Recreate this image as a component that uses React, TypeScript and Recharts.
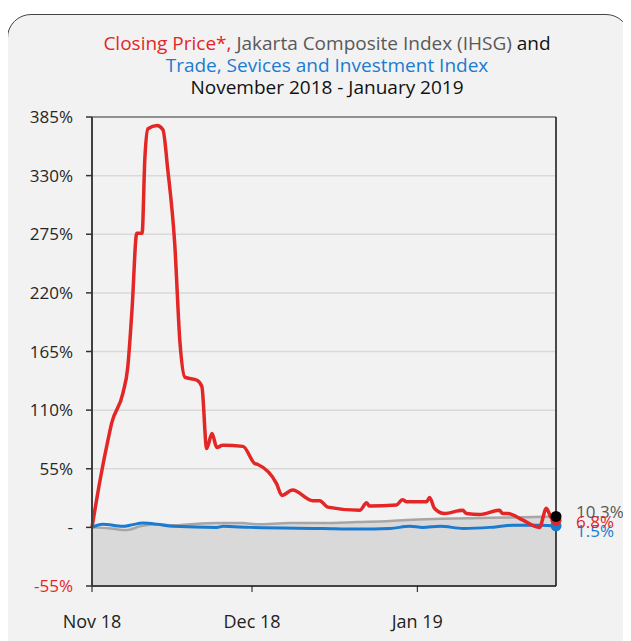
import React from "react"
import {
  Area,
  CartesianGrid,
  ComposedChart,
  Line,
  ReferenceDot,
  ReferenceLine,
  XAxis,
  YAxis,
} from "recharts"

// x = days since 1 Nov 2018
const priceDays = [0, 1.5, 3, 3.7, 5.8, 6.7, 7.5, 8.4, 9.4, 9.9, 10.5, 12.2, 13.3, 14.2, 15.5, 16.5, 17.4, 19.7, 20.6, 21.5, 22.5, 23.4, 24.5, 28.3, 30.5, 31.1, 34.6, 35.6, 37.6, 41.4, 42.7, 44.2, 50.2, 51.5, 52, 57.1, 58.2, 59, 62.7, 63.3, 64.2, 66.1, 69.5, 70.2, 72.7, 76.4, 77, 77.9, 80.7, 83.9, 85.2, 86.1, 87]
const priceValues = [0, 44, 82, 98, 126, 150, 204, 276, 276, 345, 374, 377, 373, 336, 267, 173, 141, 138, 132, 74, 88, 75, 77, 76, 60, 59, 41, 30, 35, 25, 25, 19, 16, 23, 20, 21, 26, 24, 24, 28, 18, 13, 16, 13, 12, 16, 13, 13, 7, 0, 18, 9, 6.8]

const ihsgDays = [0, 3.4, 6.6, 9, 12.2, 15.2, 18.4, 23.4, 28.3, 30.9, 37.1, 43.3, 49.7, 55.9, 59, 65.3, 70.3, 74.6, 80.8, 87]
const ihsgValues = [0, -1, -2.5, 1, 3, 2, 3, 4, 4, 3, 4, 4, 5, 6, 7, 8, 8.5, 9, 9.5, 10.3]

const tradeDays = [0, 2, 5.8, 7.1, 9.6, 12.2, 15.2, 23.4, 24.6, 29.6, 43.3, 49.7, 55.9, 59.6, 62, 65.3, 69.6, 74.6, 78.9, 84, 87]
const tradeValues = [0, 3, 1, 2, 4, 3, 1, 0, 1, 0, -1, -1.5, -1, 1, 0, 1, -1, 0, 2, 2, 1.5]

const yTicks = [-55, 0, 55, 110, 165, 220, 275, 330, 385]
const monthTicks = [0, 30, 61]
const monthLabels = ["Nov 18", "Dec 18", "Jan 19"]

const RED = "#e32626"
const GREY = "#595959"
const BLUE = "#1a7bd0"
const FONT = "'Open Sans', sans-serif"

const toRows = (days: number[], values: number[]) =>
  days.map((day, i) => ({ day, v: values[i] }))

const priceData = toRows(priceDays, priceValues)
const ihsgData = toRows(ihsgDays, ihsgValues)
const tradeData = toRows(tradeDays, tradeValues)

const last = (a: number[]) => a[a.length - 1]

function YTick(props: any) {
  const { x, y, payload } = props
  const v = payload.value
  return (
    <text x={x} y={y} dy={6} textAnchor="end" fontSize={17} fontFamily={FONT} fill={v < 0 ? RED : "#262626"}>
      {v === 0 ? "-" : `${v}%`}
    </text>
  )
}

function endLabel(text: string, color: string, dy: number) {
  return (props: any) => {
    const vb = props.viewBox
    return (
      <text
        x={vb.x + vb.width / 2 + 20}
        y={vb.y + vb.height / 2 + dy}
        dominantBaseline="middle"
        fontSize={17}
        fontFamily={FONT}
        fill={color}
      >
        {text}
      </text>
    )
  }
}

export default function App() {
  return (
    <div
      style={{
        position: "relative",
        width: 631,
        height: 641,
        margin: "-8px 0 0 -8px",
        overflow: "hidden",
        background: "#fff",
        fontFamily: FONT,
      }}
    >
      <div
        style={{
          position: "absolute",
          left: 7,
          top: 14,
          width: 623,
          height: 700,
          border: "1px solid #444",
          borderRadius: 24,
          background: "#f2f2f2",
          boxSizing: "border-box",
        }}
      />
      <div
        style={{
          position: "absolute",
          left: 0,
          top: 32,
          width: 654,
          textAlign: "center",
          fontSize: 19,
          lineHeight: "22px",
          color: "#111",
        }}
      >
        <div>
          <span style={{ color: RED }}>Closing Price*, </span>
          <span style={{ color: GREY }}>Jakarta Composite Index (IHSG)</span> and
        </div>
        <div style={{ color: BLUE }}>Trade, Sevices and Investment Index</div>
        <div>November 2018 - January 2019</div>
      </div>
      <div style={{ position: "absolute", left: 0, top: 0 }}>
        <ComposedChart
          width={631}
          height={641}
          margin={{ top: 117, right: 65, bottom: 15, left: 32 }}
        >
          <CartesianGrid vertical={false} stroke="#d9d9d9" strokeWidth={1.5} />
          <XAxis
            dataKey="day"
            type="number"
            domain={[0, 87]}
            ticks={monthTicks}
            tickFormatter={(v) => monthLabels[monthTicks.indexOf(v)]}
            allowDuplicatedCategory={false}
            height={40}
            tickSize={6}
            tickMargin={23}
            tick={{ fontSize: 18, fill: "#222", fontFamily: FONT }}
            axisLine={{ stroke: "#111", strokeWidth: 1.5 }}
            tickLine={{ stroke: "#111" }}
          />
          <YAxis
            type="number"
            domain={[-55, 385]}
            ticks={yTicks}
            width={60}
            tickSize={6}
            tickMargin={13}
            tick={<YTick />}
            axisLine={{ stroke: "#404040", strokeWidth: 2 }}
            tickLine={{ stroke: "#333", strokeWidth: 1.5 }}
            allowDataOverflow
          />
          <YAxis
            yAxisId="r"
            orientation="right"
            type="number"
            domain={[-55, 385]}
            ticks={yTicks}
            width={10}
            tickSize={6}
            tick={false}
            axisLine={{ stroke: "#111", strokeWidth: 1.5 }}
            tickLine={{ stroke: "#333", strokeWidth: 1.5 }}
          />
          <ReferenceLine y={385} stroke="#777" strokeWidth={1.5} />
          <Area
            data={ihsgData}
            dataKey="v"
            type="monotone"
            baseValue={-55}
            stroke="#a6a6a6"
            strokeWidth={2.5}
            fill="#d9d9d9"
            fillOpacity={1}
            dot={false}
            activeDot={false}
            isAnimationActive={false}
          />
          <Line
            data={tradeData}
            dataKey="v"
            type="monotone"
            stroke={BLUE}
            strokeWidth={3}
            dot={false}
            activeDot={false}
            isAnimationActive={false}
          />
          <Line
            data={priceData}
            dataKey="v"
            type="monotone"
            stroke={RED}
            strokeWidth={3.5}
            dot={false}
            activeDot={false}
            isAnimationActive={false}
          />
          <ReferenceDot
            x={last(tradeDays)}
            y={last(tradeValues)}
            r={5.5}
            fill={BLUE}
            stroke="none"
            ifOverflow="visible"
            label={endLabel(`${last(tradeValues)}%`, BLUE, 7)}
          />
          <ReferenceDot
            x={last(priceDays)}
            y={last(priceValues)}
            r={5.5}
            fill={RED}
            stroke="none"
            ifOverflow="visible"
            label={endLabel(`${last(priceValues)}%`, RED, 3)}
          />
          <ReferenceDot
            x={last(ihsgDays)}
            y={last(ihsgValues)}
            r={5.5}
            fill="#000"
            stroke="none"
            ifOverflow="visible"
            label={endLabel(`${last(ihsgValues)}%`, GREY, -3)}
          />
        </ComposedChart>
      </div>
    </div>
  )
}
